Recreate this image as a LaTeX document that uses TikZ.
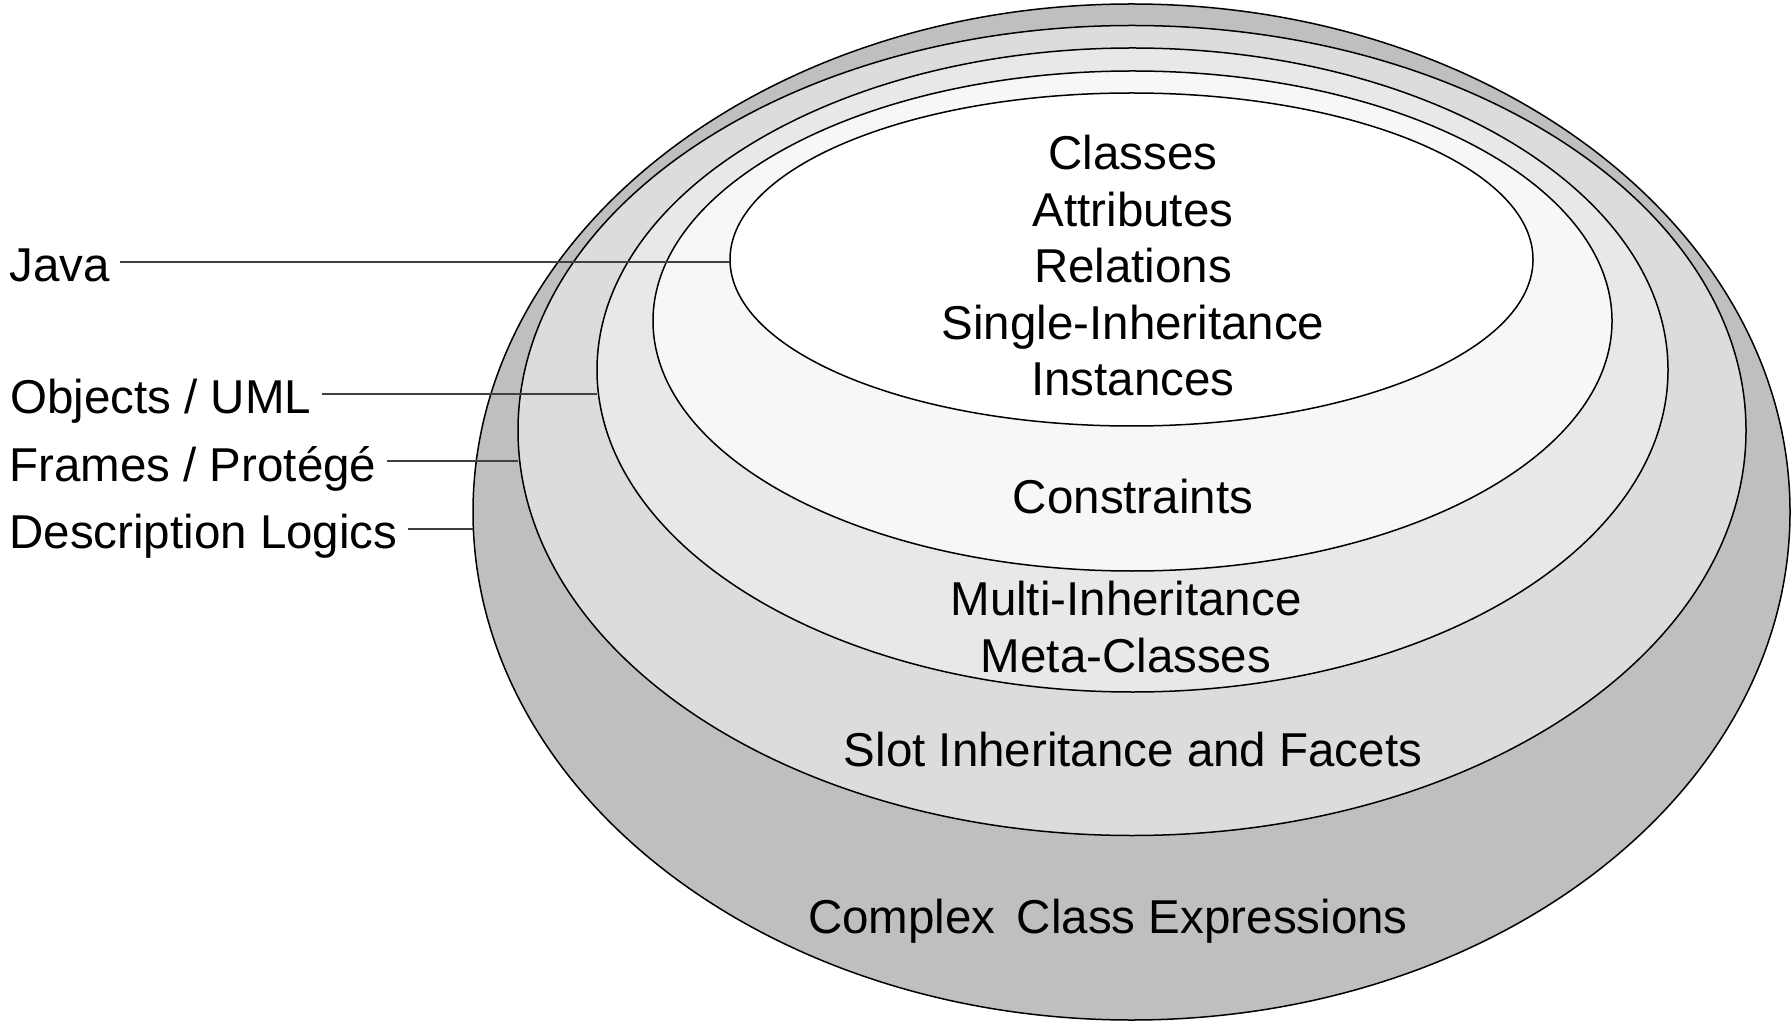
\documentclass[tikz,border=0pt]{standalone}
\usepackage{fontspec}
\setmainfont{Liberation Sans}
\usetikzlibrary{shapes.geometric}
\definecolor{ringA}{HTML}{BFBFBF}
\definecolor{ringB}{HTML}{DCDCDC}
\definecolor{ringC}{HTML}{E8E8E8}
\definecolor{ringD}{HTML}{F7F7F7}
\definecolor{leadgray}{HTML}{404040}
\begin{document}
\begin{tikzpicture}[x=0.5pt,y=-0.5pt,
  ring/.style={ellipse, draw=black, line width=0.75pt, inner sep=0pt, outer sep=0pt},
  txt/.style={font=\fontsize{23.75}{28}\selectfont, inner sep=0pt, anchor=base},
  lbl/.style={font=\fontsize{23.75}{28}\selectfont, anchor=base west,
              inner xsep=5pt, inner ysep=0pt, text height=19.5pt, text depth=0pt},
  lead/.style={draw=leadgray, line width=1pt}]
\useasboundingbox (0,0) rectangle (1792,1031);

% nested layers, outermost first
\node[ring, fill=ringA, minimum width=658.5pt, minimum height=508pt]   (e1) at (1131.5,512)   {};
\node[ring, fill=ringB, minimum width=614pt,   minimum height=405pt]   (e2) at (1132,430.5)  {};
\node[ring, fill=ringC, minimum width=535.5pt, minimum height=322pt]   (e3) at (1132.5,370)   {};
\node[ring, fill=ringD, minimum width=479.5pt, minimum height=250pt]   (e4) at (1132.5,321)   {};
\node[ring, fill=white, minimum width=401.5pt, minimum height=166.5pt] (e5) at (1131.5,259.5) {};

% layer contents
\node[txt] (t1) at (1133,170)   {Classes};
\node[txt] (t2) at (1133,226.5) {Attributes};
\node[txt] (t3) at (1133,283)   {Relations};
\node[txt] (t4) at (1133,339.5) {Single-Inheritance};
\node[txt] (t5) at (1133,396)   {Instances};
\node[txt] (t6) at (1133,513)   {Constraints};
\node[txt] (t7) at (1126,615)   {Multi-Inheritance};
\node[txt] (t8) at (1126,672)   {Meta-Classes};
\node[txt] (t9) at (1133,766)   {Slot Inheritance and Facets};
\node[txt] (t10) at (1108,933)  {Complex\hspace{0.45em}Class Expressions};

% languages and their layers
\node[lbl] (java)    at (-1,282) {Java};
\node[lbl] (objects) at (0,414)  {Objects / UML};
\node[lbl] (frames)  at (-1,481) {Frames / Protégé};
\node[lbl] (dl)      at (-1,548) {Description Logics};

\draw[lead] (java.east)    -- (java.east -| e5.west);
\draw[lead] (objects.east) -- (objects.east -| e3.west);
\draw[lead] (frames.east)  -- (frames.east -| e2.west);
\draw[lead] (dl.east)      -- (dl.east -| e1.west);
\end{tikzpicture}
\end{document}
